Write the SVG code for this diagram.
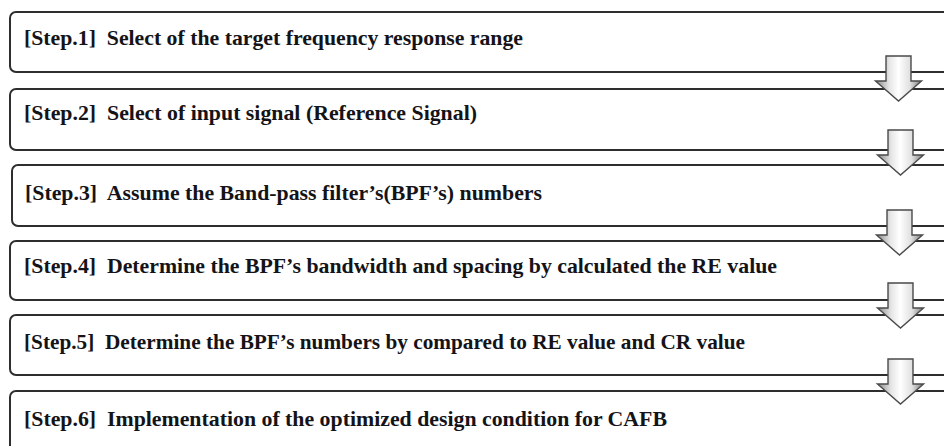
<svg xmlns="http://www.w3.org/2000/svg" width="944" height="446" viewBox="0 0 944 446">
<defs>
<style>
.box{fill:#fff;stroke:#2e2e2e;stroke-width:2}
.lbl{font-family:"Liberation Serif","Times New Roman",serif;font-weight:bold;font-size:21px;fill:#141418}
.arr{fill:url(#ag);stroke:#4a4a4a;stroke-width:1.4;stroke-linejoin:miter}
</style>
<linearGradient id="ag" x1="0" y1="0" x2="1" y2="0">
<stop offset="0" stop-color="#8a8a8a"/>
<stop offset="0.3" stop-color="#e6e6e6"/>
<stop offset="0.5" stop-color="#ffffff"/>
<stop offset="0.75" stop-color="#e0e0e0"/>
<stop offset="1" stop-color="#7a7a7a"/>
</linearGradient>
<path id="arrow" class="arr" d="M-12.5,0 H12.5 V25 H23 L0,45 L-23,25 H-12.5 Z"/>
</defs>
<rect width="944" height="446" fill="#fff"/>
<g id="step1"><rect class="box" x="10" y="12" width="960" height="60" rx="6"/><text class="lbl" x="24" y="44.5" textLength="499" lengthAdjust="spacingAndGlyphs" xml:space="preserve">[Step.1]  Select of the target frequency response range</text></g>
<g id="step2"><rect class="box" x="10" y="89" width="960" height="61" rx="6"/><text class="lbl" x="24" y="119.5" textLength="453" lengthAdjust="spacingAndGlyphs" xml:space="preserve">[Step.2]  Select of input signal (Reference Signal)</text></g>
<g id="step3"><rect class="box" x="12" y="165" width="960" height="61" rx="6"/><text class="lbl" x="25" y="199.5" textLength="517" lengthAdjust="spacingAndGlyphs" xml:space="preserve">[Step.3]  Assume the Band-pass filter’s(BPF’s) numbers</text></g>
<g id="step4"><rect class="box" x="10" y="241" width="960" height="59" rx="6"/><text class="lbl" x="24" y="272.7" textLength="753" lengthAdjust="spacingAndGlyphs" xml:space="preserve">[Step.4]  Determine the BPF’s bandwidth and spacing by calculated the RE value</text></g>
<g id="step5"><rect class="box" x="10" y="315" width="960" height="60" rx="6"/><text class="lbl" x="24" y="349" textLength="721" lengthAdjust="spacingAndGlyphs" xml:space="preserve">[Step.5]  Determine the BPF’s numbers by compared to RE value and CR value</text></g>
<g id="step6"><rect class="box" x="10" y="391" width="960" height="80" rx="6"/><text class="lbl" x="24" y="425.7" textLength="643" lengthAdjust="spacingAndGlyphs" xml:space="preserve">[Step.6]  Implementation of the optimized design condition for CAFB</text></g>
<g id="connectors">
<use href="#arrow" x="898.5" y="56"/>
<use href="#arrow" x="900.5" y="130"/>
<use href="#arrow" x="899.5" y="210"/>
<use href="#arrow" x="900.5" y="283"/>
<use href="#arrow" x="900.5" y="359"/>
</g>
</svg>
